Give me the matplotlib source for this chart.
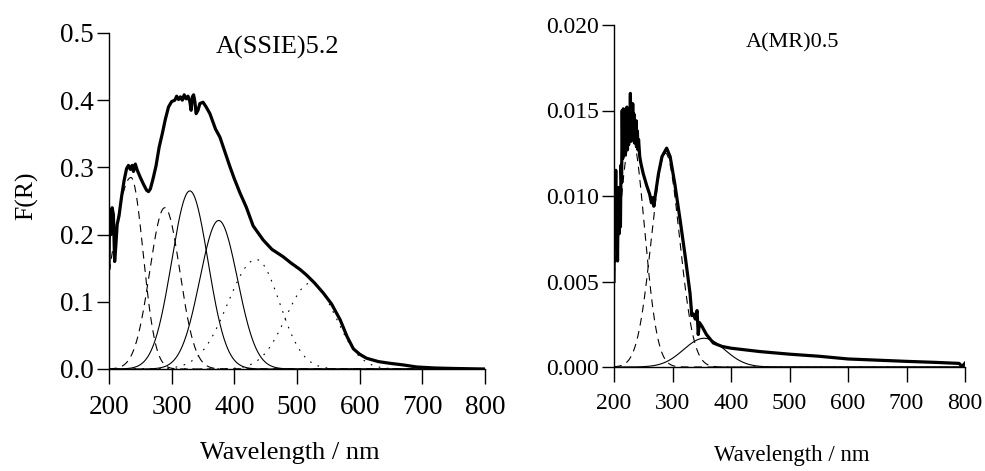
import numpy as np
import matplotlib
matplotlib.use("Agg")
import matplotlib.pyplot as plt

plt.rcParams["font.family"] = ["Liberation Serif", "DejaVu Serif"]

# --- left panel: A(SSIE)5.2, measured F(R) ---
ssie_wl = [200, 201, 203, 205, 207, 209, 211, 213, 216, 220, 224, 228, 231, 234, 237,
           239, 242, 245, 250, 255, 260, 263, 266, 270, 275, 280, 285, 290, 295, 300,
           305, 308, 311, 314, 317, 320, 323, 326, 329, 331, 333, 335, 337, 339, 342,
           345, 350, 355, 361, 370, 377, 385, 393, 400, 409, 419, 430, 446, 460, 478,
           490, 505, 515, 528, 542, 555, 569, 580, 590, 600, 611, 630, 648, 670, 691,
           720, 750, 780, 800]
ssie_fr = [0.150, 0.238, 0.200, 0.240, 0.230, 0.160, 0.185, 0.215, 0.228, 0.256, 0.280,
           0.298, 0.303, 0.297, 0.303, 0.294, 0.305, 0.296, 0.285, 0.275, 0.266, 0.264,
           0.268, 0.282, 0.302, 0.330, 0.350, 0.372, 0.390, 0.398, 0.400, 0.406, 0.401,
           0.405, 0.400, 0.408, 0.402, 0.406, 0.398, 0.385, 0.405, 0.408, 0.398, 0.380,
           0.385, 0.395, 0.397, 0.390, 0.380, 0.357, 0.345, 0.323, 0.301, 0.283, 0.262,
           0.241, 0.213, 0.192, 0.178, 0.167, 0.158, 0.148, 0.140, 0.128, 0.113, 0.097,
           0.073, 0.048, 0.030, 0.022, 0.016, 0.011, 0.0085, 0.006, 0.003, 0.0015,
           0.0008, 0.0003, 0.0]

# deconvoluted bands: centre (nm), height, left / right sigma (nm), style
ssie_center = [235, 289, 329, 375, 435, 522]
ssie_height = [0.285, 0.240, 0.265, 0.221, 0.163, 0.128]
ssie_sig_left = [30, 24, 29, 30, 45, 39.5]
ssie_sig_right = [19.5, 24, 29, 30, 37, 39.5]
ssie_style = ["dash", "dash", "solid", "solid", "dot", "dot"]

# --- right panel: A(MR)0.5 ---
mr_wl = [200, 201, 202, 203, 204, 205, 206, 207, 208, 209, 210, 211, 212, 213, 214, 215,
         216, 217, 218, 219, 220, 221, 222, 223, 224, 225, 226, 227, 228, 229, 230, 231,
         232, 233, 234, 235, 236, 237, 238, 239, 240, 241, 242, 244, 246, 250, 256, 261,
         264, 266, 268, 270, 273, 276, 282, 290, 296, 304, 313, 322, 330, 333, 336, 339,
         342, 344, 346, 350, 358, 370, 385, 400, 450, 500, 550, 600, 650, 700, 750, 790,
         795, 800]
mr_fr = [0.0050, 0.0112, 0.0090, 0.0115, 0.0075, 0.0098, 0.0062, 0.0092, 0.0105, 0.0078,
         0.0100, 0.0082, 0.0118, 0.0108, 0.0150, 0.0122, 0.0151, 0.0126, 0.0148, 0.0124,
         0.0150, 0.0130, 0.0152, 0.0127, 0.0148, 0.0130, 0.0145, 0.0135, 0.0160, 0.0132,
         0.0150, 0.0134, 0.0154, 0.0136, 0.0148, 0.0131, 0.0142, 0.0132, 0.0144, 0.0130,
         0.0138, 0.0127, 0.0133, 0.0123, 0.0119, 0.0113, 0.0106, 0.0101, 0.0096, 0.0099,
         0.0094, 0.0099, 0.0106, 0.0113, 0.0123, 0.0128, 0.0123, 0.0107, 0.0086, 0.0064,
         0.0043, 0.0030, 0.0031, 0.0028, 0.0033, 0.0019, 0.0026, 0.0024, 0.0019, 0.0014,
         0.0012, 0.0011, 0.0009, 0.00075, 0.00063, 0.00047, 0.0004, 0.00033, 0.00027,
         0.00021, 0.00003, 0.00022]

mr_center = [230, 288, 354]
mr_height = [0.0135, 0.0125, 0.00168]
mr_sig_left = [22, 24, 35]
mr_sig_right = [22, 24, 35]
mr_style = ["dash", "dash", "solid"]

xticks = [200, 300, 400, 500, 600, 700, 800]

LS = {"solid": "-", "dash": (0, (7, 5)), "dot": (0, (1.5, 6))}

W, H = 985, 471
fig = plt.figure(figsize=(W / 100, H / 100), dpi=100)


def axes_px(x0, x1, ytop, ybot):
    return fig.add_axes([x0 / W, 1 - ybot / H, (x1 - x0) / W, (ybot - ytop) / H])


def style_axes(ax, fs, ylim, yticks, ylabels):
    ax.set_xlim(200, 800)
    ax.set_ylim(*ylim)
    for s in ["top", "right"]:
        ax.spines[s].set_visible(False)
    for s in ["left", "bottom"]:
        ax.spines[s].set_linewidth(1.0)
    ax.set_xticks(xticks)
    ax.set_xticklabels([str(t) for t in xticks])
    ax.set_yticks(yticks)
    ax.set_yticklabels(ylabels)
    ax.tick_params(axis="y", direction="out", length=9, width=1.0, pad=2, labelsize=fs)
    ax.tick_params(axis="x", direction="out", length=10.5, width=1.0, pad=8, labelsize=fs)


def draw_bands(ax, centers, heights, sig_l, sig_r, styles):
    x = np.linspace(200, 800, 1201)
    for c, h, sl, sr, st in zip(centers, heights, sig_l, sig_r, styles):
        s = np.where(x < c, sl, sr)
        y = h * np.exp(-(x - c) ** 2 / (2 * s ** 2))
        ax.plot(x, y, color="black", lw=0.8, linestyle=LS[st])


# left panel
ax1 = axes_px(109, 485, 33, 369)
draw_bands(ax1, ssie_center, ssie_height, ssie_sig_left, ssie_sig_right, ssie_style)
ax1.plot(ssie_wl, ssie_fr, color="black", lw=2.3, solid_joinstyle="round")
style_axes(ax1, 19.5, (0, 0.5), [0, 0.1, 0.2, 0.3, 0.4, 0.5],
           ["0.0", "0.1", "0.2", "0.3", "0.4", "0.5"])
fig.text(278 / W, 1 - 47 / H, "A(SSIE)5.2", fontsize=19, ha="center", va="center")
fig.text(290 / W, 1 - 453 / H, "Wavelength / nm", fontsize=19, ha="center", va="center")
fig.text(27 / W, 1 - 196 / H, "F(R)", fontsize=18.5, ha="center", va="center", rotation=90)

# right panel
ax2 = axes_px(614, 965, 25, 367)
draw_bands(ax2, mr_center, mr_height, mr_sig_left, mr_sig_right, mr_style)
ax2.plot(mr_wl, mr_fr, color="black", lw=2.3, solid_joinstyle="round")
style_axes(ax2, 17, (0, 0.020), [0, 0.005, 0.010, 0.015, 0.020],
           ["0.000", "0.005", "0.010", "0.015", "0.020"])
fig.text(793 / W, 1 - 43 / H, "A(MR)0.5", fontsize=16, ha="center", va="center")
fig.text(792 / W, 1 - 455 / H, "Wavelength / nm", fontsize=16.5, ha="center", va="center")

fig.savefig("out.png", dpi=100)
